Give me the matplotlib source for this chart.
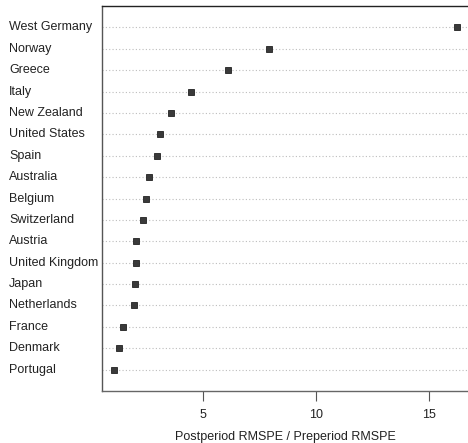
import matplotlib
matplotlib.use("Agg")
import matplotlib.pyplot as plt
import matplotlib.transforms as mtransforms
import numpy as np

plt.rcParams["font.family"] = ["Liberation Sans", "DejaVu Sans"]

countries = ["West Germany", "Norway", "Greece", "Italy", "New Zealand",
             "United States", "Spain", "Australia", "Belgium", "Switzerland",
             "Austria", "United Kingdom", "Japan", "Netherlands", "France",
             "Denmark", "Portugal"]
ratios = [16.24, 7.92, 6.10, 4.47, 3.58, 3.10, 2.96, 2.61, 2.48, 2.33,
          2.04, 2.03, 1.99, 1.95, 1.45, 1.28, 1.07]
xticks = [5, 10, 15]

fig = plt.figure(figsize=(4.68, 4.43), dpi=100)
ax = fig.add_axes([0.218, 0.1174, 0.782, 0.869])

n = len(countries)
ypos = np.arange(n, 0, -1)

# dotted guide lines like R's dotchart
for y in ypos:
    ax.axhline(y, color="#bdbdbd", lw=0.8, ls=(0, (1, 2)), zorder=1)

ax.plot(ratios, ypos, ls="none", marker="s", ms=4.5, mfc="#3a3a3a",
        mec="#222222", mew=0.6, zorder=3)

ax.set_ylim(0, n + 1)
ax.set_xlim(0.53, 16.73)
ax.set_yticks([])
ax.set_xticks(xticks)
ax.set_xticklabels([str(t) for t in xticks], fontsize=9, color="#222222")
ax.tick_params(axis="x", direction="out", length=7, width=0.8,
               color="#555555", pad=6)
ax.set_xlabel("Postperiod RMSPE / Preperiod RMSPE", fontsize=9,
              color="#222222", labelpad=7)

# country labels, left aligned near the figure edge
trans = mtransforms.blended_transform_factory(fig.transFigure, ax.transData)
for name, y in zip(countries, ypos):
    ax.text(9 / 468, y, name, transform=trans,
            ha="left", va="center", fontsize=9, color="#222222")

ax.spines["right"].set_visible(False)
ax.spines["top"].set_color("#222222")
ax.spines["left"].set_color("#555555")
ax.spines["bottom"].set_color("#666666")
for s in ["top", "left", "bottom"]:
    ax.spines[s].set_linewidth(1.0)

fig.savefig("out.png", dpi=100)
